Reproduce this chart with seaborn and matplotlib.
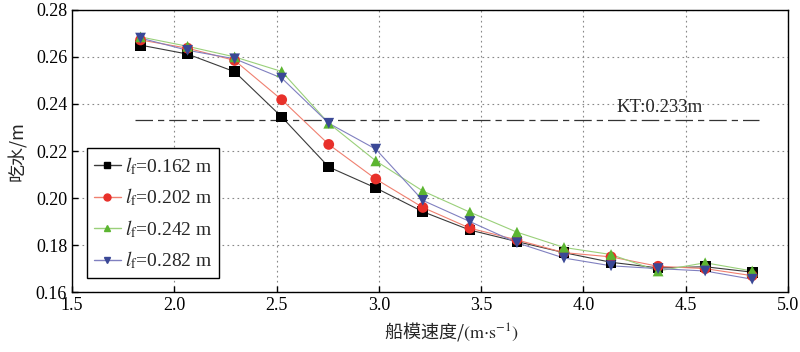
import matplotlib
matplotlib.use("Agg")
import matplotlib.pyplot as plt
import seaborn as sns
import pandas as pd
from matplotlib.lines import Line2D

speed = [1.835, 2.065, 2.295, 2.525, 2.755, 2.985, 3.215, 3.445, 3.675, 3.905, 4.135, 4.365, 4.595, 4.825]
draft_162 = [0.2650, 0.2612, 0.2537, 0.2345, 0.2132, 0.2043, 0.1942, 0.1864, 0.1815, 0.1768, 0.1727, 0.1703, 0.1708, 0.1685]
draft_202 = [0.2672, 0.2637, 0.2585, 0.2418, 0.2228, 0.2081, 0.1960, 0.1872, 0.1822, 0.1768, 0.1750, 0.1710, 0.1700, 0.1670]
draft_242 = [0.2685, 0.2645, 0.2600, 0.2538, 0.2318, 0.2158, 0.2030, 0.1940, 0.1855, 0.1790, 0.1760, 0.1690, 0.1725, 0.1690]
draft_282 = [0.2680, 0.2628, 0.2592, 0.2510, 0.2318, 0.2208, 0.1990, 0.1900, 0.1810, 0.1745, 0.1712, 0.1700, 0.1690, 0.1655]
labels = ["0.162", "0.202", "0.242", "0.282"]
kt_value = 0.233

sns.set_theme(style="ticks")
plt.rcParams['font.family'] = ['Liberation Serif', 'Noto Sans CJK SC', 'DejaVu Sans']
plt.rcParams['mathtext.fontset'] = 'stix'

rows = []
for lab, vals in zip(labels, [draft_162, draft_202, draft_242, draft_282]):
    for s, v in zip(speed, vals):
        rows.append({"speed": s, "draft": v, "lf": lab})
df = pd.DataFrame(rows)

marker_colors = {"0.162": "#000000", "0.202": "#e8302a", "0.242": "#5cb531", "0.282": "#3a4896"}
line_colors = {"0.162": "#3a3a3a", "0.202": "#f08070", "0.242": "#9ad07a", "0.282": "#8080c0"}
markers = {"0.162": "s", "0.202": "o", "0.242": "^", "0.282": "v"}

fig = plt.figure(figsize=(8.0, 3.52), dpi=100)
ax = fig.add_axes([0.09, 0.170, 0.895, 0.802])

for lab in labels:
    sub = df[df.lf == lab]
    sns.lineplot(data=sub, x="speed", y="draft", color=line_colors[lab], lw=0.8, ax=ax, legend=False)
for lab in labels:
    sub = df[df.lf == lab]
    sns.scatterplot(data=sub, x="speed", y="draft", color=marker_colors[lab], marker=markers[lab],
                    s=60, edgecolor="none", ax=ax, legend=False, zorder=3)

ax.plot([1.81, 4.86], [kt_value, kt_value], color="#333333", lw=0.9, dashes=[14, 4, 5, 4])
ax.text(4.37, kt_value + 0.0018, "KT:0.233m", ha="center", va="bottom", fontsize=13.5,
        family=['Liberation Serif'])

ax.set_xlim(1.5, 5.0)
ax.set_ylim(0.16, 0.28)
ax.set_xticks([1.5, 2.0, 2.5, 3.0, 3.5, 4.0, 4.5, 5.0])
ax.set_xticklabels(["1.5", "2.0", "2.5", "3.0", "3.5", "4.0", "4.5", "5.0"])
ax.set_yticks([0.16, 0.18, 0.20, 0.22, 0.24, 0.26, 0.28])
ax.set_yticklabels(["0.16", "0.18", "0.20", "0.22", "0.24", "0.26", "0.28"])
ax.grid(True, color="#888888", ls=(0, (1.5, 3)), lw=0.8)
ax.tick_params(direction="in", labelsize=13, length=4, width=1, colors="black")
for sp in ax.spines.values():
    sp.set_color("black")
    sp.set_linewidth(1.0)

ax.set_xlabel(r"船模速度/$(\mathrm{m{\cdot}s^{-1}})$", fontsize=13, labelpad=3,
              family=['Noto Sans CJK SC', 'Liberation Serif'])
ax.xaxis.set_label_coords(0.53, -0.1)
ax.set_ylabel("吃水/m", fontsize=13, labelpad=6,
              family=['Noto Sans CJK SC', 'Liberation Serif'])

handles = []
for lab in labels:
    handles.append(Line2D([0], [0], color=line_colors[lab], lw=1.0, marker=markers[lab],
                          markerfacecolor=marker_colors[lab], markeredgecolor=marker_colors[lab],
                          markersize=5, label=r"$l_{\mathrm{f}}$=" + lab + " m"))
leg = ax.legend(handles=handles, loc="lower left", bbox_to_anchor=(0.021, 0.05), fontsize=14,
                frameon=True, fancybox=False, edgecolor="black", framealpha=1, borderaxespad=0,
                handlelength=1.4, handletextpad=0.2, borderpad=0.35, labelspacing=0.5)
leg.get_frame().set_linewidth(1.0)

fig.savefig("out.png", dpi=100)
